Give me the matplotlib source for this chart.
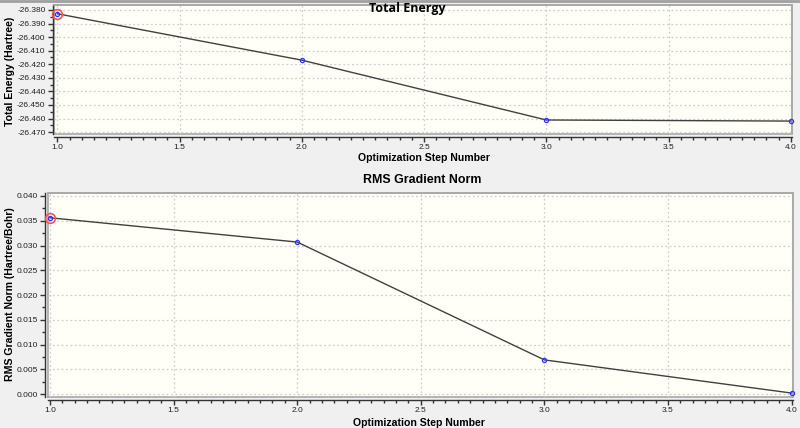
import numpy as np
import matplotlib.pyplot as plt
from matplotlib.ticker import MultipleLocator, FormatStrFormatter

# datos
steps = [1.0, 2.0, 3.0, 4.0]
energy = [-26.3828, -26.4170, -26.4611, -26.4619]
rms_grad = [0.0356, 0.0307, 0.0069, 0.0002]

bg = '#f0f0f0'
plot_bg = '#fffff8'
frame = '#a8a8a8'

plt.rcParams['font.family'] = ['Liberation Sans', 'DejaVu Sans']
plt.rcParams['axes.unicode_minus'] = False
fig = plt.figure(figsize=(8, 4.28), dpi=100, facecolor=bg)

PX = 0.72  # un pixel en puntos


def style_axes(ax, xlim, ylim, ymaj, ymin, yfmt, xoff, yoff):
    ax.set_facecolor(plot_bg)
    ax.set_xlim(*xlim)
    ax.set_ylim(*ylim)
    for s in ['top', 'right']:
        ax.spines[s].set_color(frame)
        ax.spines[s].set_linewidth(1.2)
    for s in ['left', 'bottom']:
        ax.spines[s].set_color('#333333')
        ax.spines[s].set_linewidth(1.0)
    ax.spines['bottom'].set_position(('outward', xoff * PX))
    ax.spines['left'].set_position(('outward', yoff * PX))
    # marco gris del area de dibujo
    ax.plot([0, 1, 1, 0, 0], [0, 0, 1, 1, 0], transform=ax.transAxes,
            color=frame, lw=1.2, clip_on=False, zorder=1)
    ax.xaxis.set_major_locator(MultipleLocator(0.5))
    ax.xaxis.set_minor_locator(MultipleLocator(0.05))
    ax.xaxis.set_major_formatter(FormatStrFormatter('%.1f'))
    ax.yaxis.set_major_locator(MultipleLocator(ymaj))
    ax.yaxis.set_minor_locator(MultipleLocator(ymin))
    ax.yaxis.set_major_formatter(FormatStrFormatter(yfmt))
    ax.tick_params(which='major', length=5 * PX, width=1, color='#333333',
                   labelsize=6, labelcolor='#222222', pad=2 * PX)
    ax.tick_params(which='minor', length=3 * PX, width=1, color='#333333')
    ax.grid(True, which='major', color='#cfcfcf', linestyle=(0, (1.5, 2)), lw=0.9)


def draw_series(ax, y):
    ax.plot(steps, y, color='#404040', lw=1.0, zorder=3)
    ax.plot(steps, y, linestyle='none', marker='o', ms=3, mfc='none',
            mec='#3030ff', mew=0.9, zorder=4, clip_on=False)
    ax.plot(steps[0], y[0], marker='o', ms=7, mfc='none', mec='#ff5050',
            mew=1.2, zorder=5, clip_on=False)


# Energia total
ax1 = fig.add_axes([54 / 800, 0.687, 738 / 800, 0.3014])
style_axes(ax1, (0.9857, 4.005), (-26.4714, -26.3763), 0.01, 0.005,
           '%.3f', 3.4, 1.5)
draw_series(ax1, energy)
fig.text(0.53, 1 - 158 / 428, 'Optimization Step Number', ha='center', va='center',
         fontsize=7.6, fontweight='bold')
fig.text(10 / 800, 1 - 71 / 428, 'Total Energy (Hartree)', rotation=90,
         ha='center', va='center', fontsize=7.6, fontweight='bold')
fig.text(0.509, 0.981, 'Total Energy', ha='center', va='center',
         fontsize=9, fontweight='bold', family=['Open Sans', 'DejaVu Sans'])

# Norma del gradiente
ax2 = fig.add_axes([47.7 / 800, 0.0724, 745.3 / 800, 0.4766])
style_axes(ax2, (0.9907, 4.006), (-0.0006, 0.0406), 0.005, 0.0025,
           '%.3f', 3.2, 2.7)
draw_series(ax2, rms_grad)
fig.text(0.524, 1 - 423 / 428, 'Optimization Step Number', ha='center', va='center',
         fontsize=7.6, fontweight='bold')
fig.text(10 / 800, 1 - 294 / 428, 'RMS Gradient Norm (Hartree/Bohr)', rotation=90,
         ha='center', va='center', fontsize=7.6, fontweight='bold')
fig.text(0.528, 1 - 180 / 428, 'RMS Gradient Norm', ha='center', va='center',
         fontsize=8.9, fontweight='bold')

# borde superior de la ventana
fig.add_artist(plt.Line2D([0, 1], [0.997, 0.997], color='#a0a0a0', lw=2,
                          transform=fig.transFigure))

fig.savefig('out.png', dpi=100, facecolor=bg)
